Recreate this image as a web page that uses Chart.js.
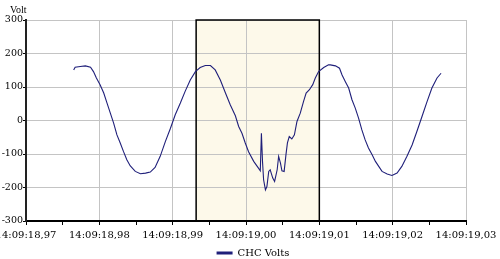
<!DOCTYPE html>
<html lang="en" dir="ltr">
<head>
<meta charset="utf-8">
<script src="https://cdn.jsdelivr.net/npm/chart.js@4/dist/chart.umd.min.js"></script>
<style>
  body { margin: 0; background: #fff; }
</style>
</head>
<body>
<canvas id="voltChart" width="500" height="259"></canvas>
<script>
// time axis in ms after 14:09:18
var times = [976.5, 976.7, 977.4, 978.1, 978.8, 979.2, 979.6, 980.1, 980.6, 981.05,
  981.5, 981.95, 982.4, 982.85, 983.3, 983.75, 984.2, 984.9, 985.6, 986.3,
  986.95, 987.6, 988.3, 989.0, 989.7, 990.35, 991.05, 991.7, 992.4, 993.1,
  993.75, 994.45, 995.15, 995.8, 996.5, 997.2, 997.85, 998.55, 999.0, 999.45,
  999.9, 1000.35, 1001.05, 1001.7, 1001.95, 1002.1, 1002.25, 1002.4, 1002.65, 1002.85,
  1003.1, 1003.3, 1003.65, 1003.9, 1004.25, 1004.45, 1004.7, 1004.9, 1005.2, 1005.45,
  1005.65, 1005.9, 1006.25, 1006.6, 1006.95, 1007.4, 1007.85, 1008.2, 1008.65, 1009.1,
  1009.45, 1009.9, 1010.6, 1011.25, 1011.5, 1012.2, 1012.75, 1013.1, 1013.55, 1014.0,
  1014.45, 1014.9, 1015.35, 1015.8, 1016.25, 1016.7, 1017.2, 1017.65, 1018.1, 1018.55,
  1019.25, 1019.9, 1020.6, 1021.25, 1021.95, 1022.65, 1023.3, 1024.0, 1024.7, 1025.35,
  1026.05, 1026.6];
var volts = [151, 159, 161, 163, 159, 146, 127, 107, 82, 52,
  22, -8, -43, -67, -93, -117, -135, -152, -159, -157,
  -154, -140, -107, -63, -23, 17, 52, 87, 121, 146,
  158, 164, 164, 151, 121, 82, 47, 14, -18, -38,
  -67, -93, -122, -142, -150, -38, -122, -177, -207, -197,
  -152, -147, -172, -182, -147, -107, -127, -150, -152, -102,
  -67, -48, -55, -43, -3, 22, 57, 82, 92, 107,
  127, 146, 158, 166, 166, 163, 156, 136, 116, 97,
  62, 37, 7, -28, -58, -82, -102, -122, -137, -152,
  -160, -164, -157, -137, -107, -73, -33, 12, 57, 97,
  127, 141];

var xMin = 970, xMax = 1030;
var yTicks = [-300, -200, -100, 0, 100, 200, 300];
var boxStart = 993.2, boxEnd = 1010;   // highlighted window
var seriesName = 'CHC Volts';
var lineColor = '#1f1f7a';

function timeLabel(v) {
  return '14:09:' + (18 + v / 1000).toFixed(2).replace('.', ',');
}

var points = times.map(function(t, i) { return { x: t, y: volts[i] }; });

// cream window behind the grid, black frame on top of it
var windowBox = {
  id: 'windowBox',
  afterLayout: function(chart) {
    // let the y labels use the space left of the axis box (they get clipped otherwise)
    chart.scales.y.left = 0;
  },
  beforeDraw: function(chart) {
    var ctx = chart.ctx, a = chart.chartArea;
    var x1 = chart.scales.x.getPixelForValue(boxStart);
    var x2 = chart.scales.x.getPixelForValue(boxEnd);
    ctx.save();
    ctx.fillStyle = '#fdf9ea';
    ctx.fillRect(x1, a.top, x2 - x1, a.bottom - a.top);
    ctx.restore();
  },
  beforeDatasetsDraw: function(chart) {
    var ctx = chart.ctx, a = chart.chartArea;
    var x1 = chart.scales.x.getPixelForValue(boxStart);
    var x2 = chart.scales.x.getPixelForValue(boxEnd);
    ctx.save();
    ctx.strokeStyle = '#000';
    ctx.lineWidth = 1.5;
    ctx.beginPath();
    ctx.moveTo(x1, a.bottom);
    ctx.lineTo(x1, a.top);
    ctx.lineTo(x2, a.top);
    ctx.lineTo(x2, a.bottom);
    ctx.stroke();
    ctx.restore();
  },
  afterDraw: function(chart) {
    var ctx = chart.ctx;
    ctx.save();
    ctx.font = '10px "Liberation Serif"';
    ctx.fillStyle = '#000';
    ctx.textBaseline = 'middle';
    ctx.fillText('Volt', 10, 10);
    ctx.restore();
  }
};

Chart.defaults.font.family = '"DejaVu Serif"';
Chart.defaults.font.size = 10;
Chart.defaults.color = '#000';

new Chart(document.getElementById('voltChart'), {
  type: 'line',
  data: {
    datasets: [{
      label: seriesName,
      data: points,
      borderColor: lineColor,
      backgroundColor: lineColor,
      borderWidth: 1.1,
      pointRadius: 0,
      fill: false,
      tension: 0
    }]
  },
  options: {
    responsive: false,
    animation: false,
    devicePixelRatio: 1,
    layout: { padding: { left: 6, top: 20, right: 0, bottom: 0 } },
    plugins: {
      tooltip: { enabled: false },
      legend: {
        position: 'bottom',
        maxHeight: 20,
        labels: {
          usePointStyle: true,
          pointStyle: 'line',
          pointStyleWidth: 16,
          padding: 9,
          generateLabels: function(chart) {
            var items = Chart.defaults.plugins.legend.labels.generateLabels(chart);
            items.forEach(function(it) { it.lineWidth = 3; it.strokeStyle = lineColor; });
            return items;
          }
        }
      }
    },
    scales: {
      x: {
        type: 'linear',
        min: xMin,
        max: xMax,
        afterFit: function(scale) {
          scale.paddingLeft = 0;
          scale.paddingRight = 34;
          scale.height = 18;
        },
        ticks: {
          stepSize: 5,
          padding: 4,
          maxRotation: 0,
          autoSkip: false,
          callback: function(v) { return v % 10 === 0 ? timeLabel(v) : ''; }
        },
        grid: {
          color: function(c) { return c.tick && c.tick.value % 10 === 0 ? '#c4c4c4' : 'rgba(0,0,0,0)'; },
          tickColor: '#000',
          tickLength: 4
        },
        border: { color: '#000', width: 2 }
      },
      y: {
        min: -300,
        max: 300,
        afterFit: function(scale) { scale.width = 20; },
        afterBuildTicks: function(scale) {
          scale.ticks = yTicks.map(function(v) { return { value: v }; });
        },
        ticks: { padding: 0, font: { size: 9.5 } },
        grid: { color: '#c4c4c4', tickColor: '#000', tickLength: 3 },
        border: { color: '#222', width: 2 }
      }
    }
  },
  plugins: [windowBox]
});
</script>
</body>
</html>
